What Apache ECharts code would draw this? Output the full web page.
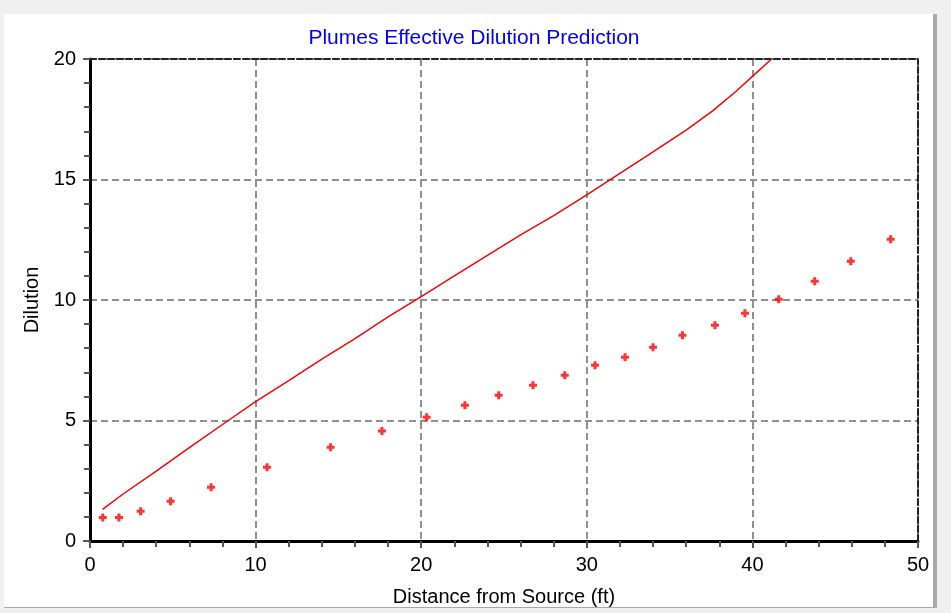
<!DOCTYPE html>
<html>
<head>
<meta charset="utf-8">
<script src="https://cdn.jsdelivr.net/npm/echarts@6/dist/echarts.min.js"></script>
<style>
  html, body { margin: 0; padding: 0; background: #f0f0f0; }
  #chart { width: 951px; height: 613px; }
</style>
</head>
<body>
<div id="chart"></div>
<script>
// Effective dilution curve (solid line)
const curveDistance = [0.76, 2, 4, 6, 8.35, 10, 12, 14, 16, 18, 20, 22, 24, 26, 28, 30, 32, 34, 36, 37.6, 39, 40, 41.16];
const curveDilution = [1.31, 1.95, 2.9, 3.87, 5.0, 5.78, 6.65, 7.55, 8.4, 9.3, 10.14, 11.0, 11.85, 12.7, 13.5, 14.36, 15.25, 16.15, 17.05, 17.85, 18.65, 19.28, 20.0];

// Centerline dilution samples (markers)
const pointDistance = [0.77, 1.75, 3.06, 4.87, 7.31, 10.69, 14.53, 17.63, 20.33, 22.64, 24.68, 26.75, 28.67, 30.5, 32.31, 34.0, 35.78, 37.74, 39.55, 41.59, 43.76, 45.94, 48.35];
const pointDilution = [0.98, 0.98, 1.23, 1.65, 2.23, 3.06, 3.89, 4.56, 5.13, 5.63, 6.05, 6.46, 6.88, 7.29, 7.62, 8.04, 8.54, 8.95, 9.45, 10.03, 10.78, 11.61, 12.52];

const xTicks = { min: 0, max: 50, interval: 10 };
const yTicks = { min: 0, max: 20, interval: 5 };

const chartTitle = 'Plumes Effective Dilution Prediction';
const xName = 'Distance from Source (ft)';
const yName = 'Dilution';

const FONT = '"Liberation Sans", Arial, sans-serif';

const chart = echarts.init(document.getElementById('chart'), null, { renderer: 'canvas' });

const gridDash = { color: '#8f8f8f', width: 2, type: [7, 4] };
const borderDash = { color: '#222', width: 2, type: [6, 3] };

chart.setOption({
  backgroundColor: '#f0f0f0',
  animation: false,
  graphic: [
    { type: 'rect', z: -20, shape: { x: 4, y: 14, width: 933, height: 594 }, style: { fill: '#a9a9a9' } },
    { type: 'rect', z: -19, shape: { x: 4, y: 14, width: 929, height: 593 }, style: { fill: '#ffffff' } }
  ],
  title: {
    text: chartTitle,
    left: 469,
    textAlign: 'center',
    top: 23,
    textStyle: { color: '#0000ff', fontFamily: FONT, fontSize: 21, fontWeight: 'normal' }
  },
  grid: { left: 90, top: 59, right: 33, bottom: 72, containLabel: false },
  xAxis: [
    {
      type: 'value',
      min: xTicks.min, max: xTicks.max, interval: xTicks.interval,
      name: xName,
      nameLocation: 'middle',
      nameGap: 46,
      nameTextStyle: { color: '#000', fontFamily: FONT, fontSize: 20 },
      axisLine: { onZero: false, lineStyle: { color: '#000', width: 3 } },
      axisTick: { show: true, length: 7, lineStyle: { color: '#555', width: 2 } },
      minorTick: { show: true, splitNumber: 5, length: 6, lineStyle: { color: '#555', width: 2 } },
      axisLabel: { color: '#000', fontFamily: FONT, fontSize: 20, margin: 14 },
      splitLine: { show: true, lineStyle: gridDash }
    },
    {
      type: 'value', position: 'top',
      min: xTicks.min, max: xTicks.max, interval: xTicks.interval,
      axisLine: { show: true, onZero: false, lineStyle: borderDash },
      axisTick: { show: false }, axisLabel: { show: false }, splitLine: { show: false }
    }
  ],
  yAxis: [
    {
      type: 'value',
      min: yTicks.min, max: yTicks.max, interval: yTicks.interval,
      name: yName,
      nameLocation: 'middle',
      nameGap: 46,
      nameRotate: 90,
      nameTextStyle: { color: '#000', fontFamily: FONT, fontSize: 20 },
      axisLine: { show: true, onZero: false, lineStyle: { color: '#000', width: 3 } },
      axisTick: { show: true, length: 7, lineStyle: { color: '#555', width: 2 } },
      minorTick: { show: true, splitNumber: 5, length: 6, lineStyle: { color: '#555', width: 2 } },
      axisLabel: { color: '#000', fontFamily: FONT, fontSize: 20, margin: 14 },
      splitLine: { show: true, lineStyle: gridDash }
    },
    {
      type: 'value', position: 'right',
      min: yTicks.min, max: yTicks.max, interval: yTicks.interval,
      axisLine: { show: true, onZero: false, lineStyle: borderDash },
      axisTick: { show: false }, axisLabel: { show: false }, splitLine: { show: false }
    }
  ],
  series: [
    {
      name: 'Effective dilution',
      type: 'line',
      data: curveDistance.map((x, i) => [x, curveDilution[i]]),
      showSymbol: false,
      clip: true,
      lineStyle: { color: '#ff0000', width: 1.5 },
      z: 5
    },
    {
      name: 'Centerline dilution',
      type: 'scatter',
      data: pointDistance.map((x, i) => [x, pointDilution[i]]),
      symbol: 'path://M2.5,0H5.5V2.5H8V5.5H5.5V8H2.5V5.5H0V2.5H2.5Z',
      symbolSize: 8,
      itemStyle: { color: '#ff0000' },
      z: 6
    }
  ]
});
</script>
</body>
</html>
